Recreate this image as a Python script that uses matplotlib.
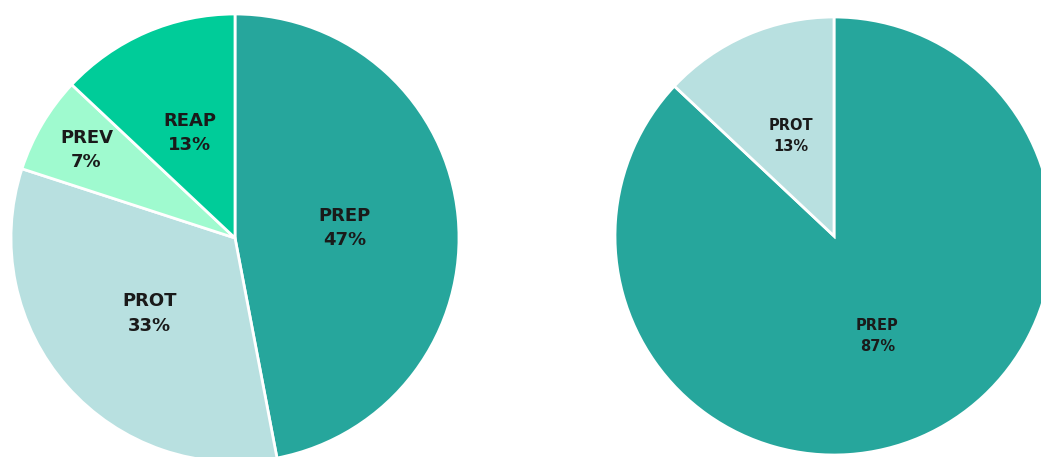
import matplotlib
matplotlib.use("Agg")
import matplotlib.pyplot as plt
import numpy as np

# Left pie: all four categories
left_labels = ["PREP", "PROT", "PREV", "REAP"]
left_values = [47, 33, 7, 13]

# Right pie: two categories
right_labels = ["PREP", "PROT"]
right_values = [87, 13]

palette = {
    "PREP": "#26A69C",
    "PROT": "#B8E0E0",
    "PREV": "#9FFACF",
    "REAP": "#00CC99",
}

W, H = 1041, 457
fig = plt.figure(figsize=(W / 100, H / 100), dpi=100)
fig.patch.set_facecolor("white")


def draw_pie(rect, labels, values, fontsize, dists, spacing):
    ax = fig.add_axes(rect)
    ax.pie(
        values,
        colors=[palette[l] for l in labels],
        startangle=90,
        counterclock=False,
        radius=1.0,
        wedgeprops=dict(edgecolor="white", linewidth=2.0),
    )
    total = sum(values)
    start = 90.0
    for lab, v, d in zip(labels, values, dists):
        span = 360.0 * v / total
        mid = np.deg2rad(start - span / 2)
        start -= span
        ax.text(d * np.cos(mid), d * np.sin(mid), f"{lab}\n{round(100 * v / total)}%",
                ha="center", va="center", fontsize=fontsize, fontweight="bold",
                color="#1a1a1a", linespacing=spacing, family="DejaVu Sans")
    ax.set_xlim(-1, 1)
    ax.set_ylim(-1, 1)
    ax.set_aspect("equal")
    ax.axis("off")
    return ax


# Left pie: centre (235, 238), radius 224 px
cx, cy, r = 235, H - 238, 224
draw_pie([(cx - r) / W, (cy - r) / H, 2 * r / W, 2 * r / H],
         left_labels, left_values, 13, [0.49, 0.51, 0.77, 0.51], 1.45)

# Right pie: centre (834, 236), radius 219 px
cx, cy, r = 834, H - 236, 219
draw_pie([(cx - r) / W, (cy - r) / H, 2 * r / W, 2 * r / H],
         right_labels, right_values, 10.5, [0.5, 0.5], 1.5)

fig.savefig("out.png", dpi=100, facecolor="white")
